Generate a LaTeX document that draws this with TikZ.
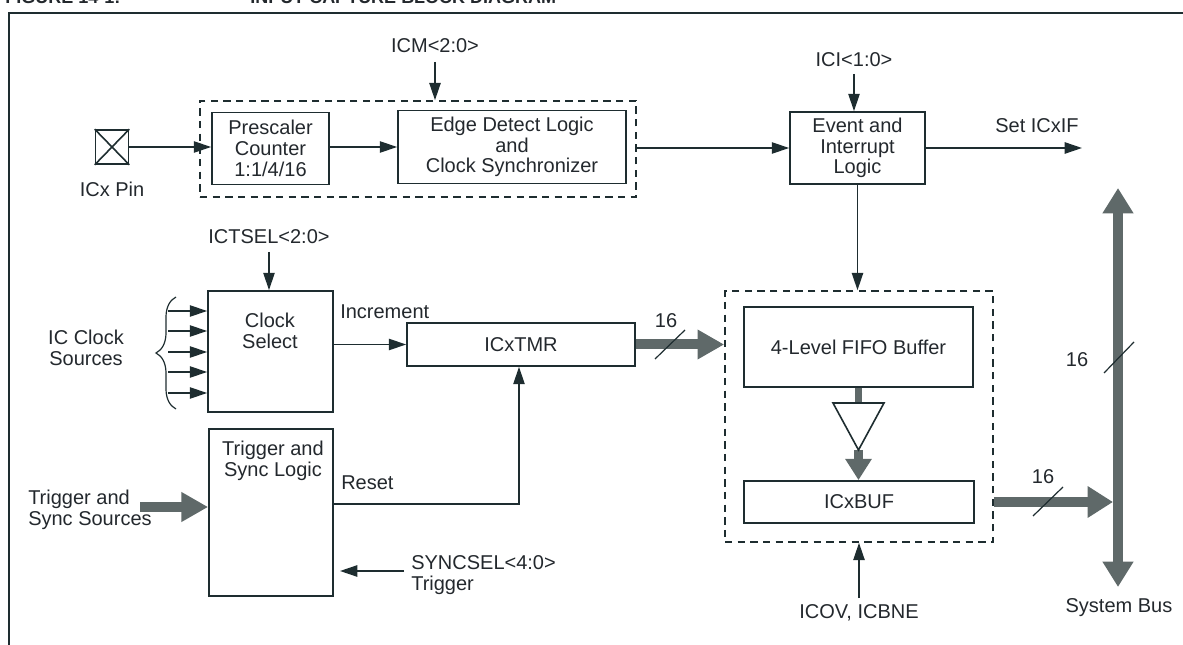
\documentclass[tikz,border=0pt]{standalone}
\usepackage{fontspec}
\setmainfont{Liberation Sans}
\usetikzlibrary{arrows.meta,decorations.pathreplacing,calc}
\definecolor{lnc}{RGB}{30,45,48}
\definecolor{txc}{RGB}{35,40,45}
\definecolor{busc}{RGB}{95,105,105}
\begin{document}
\begin{tikzpicture}[x=0.75pt,y=-0.75pt,
  font=\fontsize{15}{15.5}\selectfont,
  every node/.style={text=txc},
  blk/.style={draw=lnc,line width=1.3pt,inner sep=0pt,align=center},
  dbox/.style={draw=lnc,line width=1.2pt,dash pattern=on 5.5pt off 4pt,inner sep=0pt},
  lbl/.style={inner sep=0pt,align=center},
  wire/.style={draw=lnc,line width=1.2pt},
  arr/.style={wire,-{Triangle[length=13pt,width=8.5pt]}},
  fat/.style={draw=busc,line width=7.5pt,-{Triangle[length=20pt,width=21pt]}},
  tick/.style={draw=lnc,line width=0.9pt},
  ttl/.style={inner sep=0pt,anchor=base west,font=\bfseries\fontsize{13.5}{14}\selectfont}]
\useasboundingbox (0,0) rectangle (1183,645);
% title (cut off at the top)
\node[ttl] (ttl1) at (5,4) {FIGURE 14-1:};
\node[ttl] (ttl2) at (250,4) {INPUT CAPTURE BLOCK DIAGRAM};
% frame
\draw[wire] (9,645) -- (9,13) -- (1183,13);
% ---- top row
\node[blk,minimum width=24.75pt,minimum height=25.5pt] (pin) at (112,147) {};
\draw[wire] (pin.north west) -- (pin.south east) (pin.north east) -- (pin.south west);
\node[lbl] (pinl) at (112,189) {ICx Pin};
\node[dbox,minimum width=327pt,minimum height=72pt] (d1) at (418,149) {};
\node[blk,minimum width=87.75pt,minimum height=54pt] (pre) at (270.5,148.5) {Prescaler\\Counter\\1:1/4/16};
\node[blk,minimum width=171pt,minimum height=54.75pt] (edge) at (512,147) {Edge Detect Logic\\and\\Clock Synchronizer};
\node[blk,minimum width=101.25pt,minimum height=54pt] (ev) at (857.5,148) {Event and\\Interrupt\\Logic};
\draw[arr] (pin.east) -- (pin.east -| pre.west);
\draw[arr] (pre.east |- pin) -- (edge.west |- pin);
\draw[arr] (d1.east |- ev) -- (ev.west);
\node[lbl] (icm) at (435,46) {ICM<2:0>};
\coordinate (icmt) at (435,62);
\draw[arr] (icmt) -- (icmt |- d1.north);
\node[lbl] (ici) at (854,60) {ICI<1:0>};
\coordinate (icit) at (854,74);
\draw[arr] (icit) -- (icit |- ev.north);
\node[lbl] (setl) at (1037,126) {Set ICxIF};
\coordinate (setf) at (1082,148);
\draw[arr] (ev.east) -- (setf);
% ---- FIFO block
\node[dbox,minimum width=201pt,minimum height=188.25pt] (d2) at (859,416.5) {};
\draw[arr] (ev.south) -- (ev.south |- d2.north);
\node[blk,minimum width=171.75pt,minimum height=60pt] (fifo) at (858.5,347) {4-Level FIFO Buffer};
\node[blk,minimum width=172.5pt,minimum height=31.5pt] (buf) at (859,502) {ICxBUF};
\coordinate (tl) at (833,403);
\coordinate (tr) at (884,403);
\coordinate (tap) at (858.5,450);
\coordinate (ttop) at (858.5,403);
\draw[draw=busc,line width=5.25pt] (fifo.south) -- (ttop);
\draw[draw=busc,line width=6.75pt,-{Triangle[length=16pt,width=19pt]}] (tap) -- (tap |- buf.north);
\draw[wire,fill=white,line join=miter] (tl) -- (tr) -- (tap) -- cycle;
\node[lbl] (icov) at (859,613) {ICOV, ICBNE};
\coordinate (icovt) at (859,598);
\draw[arr] (icovt) -- (icovt |- d2.south);
% ---- system bus
\coordinate (bt) at (1118,188);
\coordinate (bb) at (1118,587);
\draw[draw=busc,line width=7.5pt,{Triangle[length=19pt,width=22pt]}-{Triangle[length=19pt,width=22pt]}] (bt) -- (bb);
\draw[fat,-{Triangle[length=19pt,width=22.5pt]},shorten >=3.75pt] (d2.east |- buf) -- (bt |- buf);
\draw[tick] (1033,516) -- (1063,487);
\node[lbl] (n16c) at (1043,477) {16};
\draw[tick] (1104,373) -- (1134,342);
\node[lbl] (n16b) at (1077,360) {16};
\node[lbl] (sysb) at (1119,608) {System Bus};
% ---- clock select
\node[lbl] (icts) at (269,237) {ICTSEL<2:0>};
\node[blk,minimum width=93.75pt,minimum height=90.75pt] (clk) at (270.5,351.5) {};
\node[lbl] (clkl) at (270,331) {Clock\\Select};
\coordinate (ictst) at (269,252);
\draw[arr] (ictst) -- (ictst |- clk.north);
\foreach \yy in {311,331,352,372,393} {
  \coordinate (in\yy) at (168,\yy);
  \draw[arr] (in\yy) -- (in\yy -| clk.west);
}
\draw[draw=lnc,line width=0.9pt,decorate,decoration={brace,amplitude=15pt}] (176,409) -- (176,297);
\node[lbl] (icsrc) at (86,348) {IC Clock\\Sources};
\node[blk,minimum width=171pt,minimum height=32.25pt] (tmr) at (521,344.5) {ICxTMR};
\draw[arr] (clk.east |- tmr) -- (tmr.west);
\node[lbl,anchor=west] (inc) at (340,312) {Increment};
\draw[fat] (tmr.east) -- (tmr.east -| d2.west);
\draw[tick] (655,359) -- (685,330);
\node[lbl] (n16a) at (666,321) {16};
% ---- trigger and sync
\node[blk,minimum width=93pt,minimum height=125.25pt] (trig) at (271,512.5) {};
\node[lbl] (trigl) at (273,461) {Trigger and\\Sync Logic};
\node[lbl,anchor=west] (rst) at (341,483) {Reset};
\coordinate (rs) at (519,504);
\draw[arr] (trig.east |- rs) -- (rs) -- (rs |- tmr.south);
\node[lbl,anchor=west,align=left] (tss) at (28,510) {Trigger and\\Sync Sources};
\coordinate (tsst) at (140,507);
\draw[fat] (tsst) -- (tsst -| trig.west);
\node[lbl,anchor=west,align=left] (sync) at (411,575) {SYNCSEL<4:0>\\Trigger};
\coordinate (sy1) at (404,571);
\coordinate (sy2) at (340,571);
\draw[arr] (sy1) -- (sy2);
\end{tikzpicture}
\end{document}
